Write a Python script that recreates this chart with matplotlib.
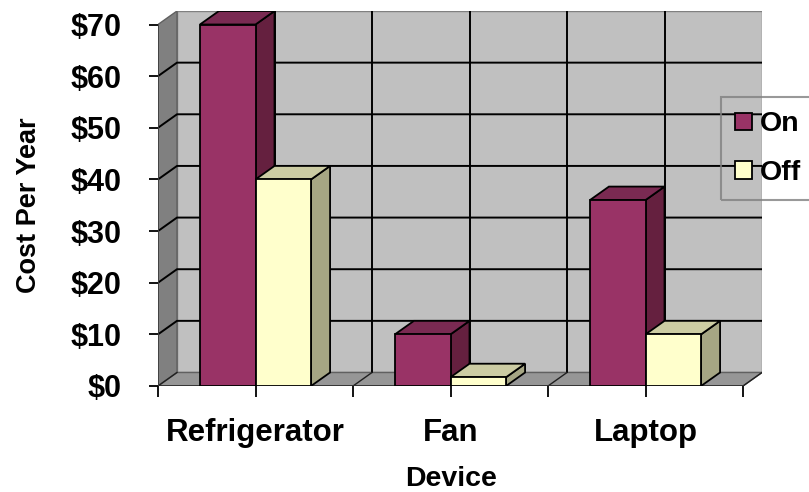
import matplotlib.pyplot as plt
from matplotlib.patches import Polygon, Rectangle, Patch

# Yearly running cost per device, switched on vs. left off
devices = ['Refrigerator', 'Fan', 'Laptop']
cost_on = [70, 10, 36]
cost_off = [40, 1.7, 10]
series = ['On', 'Off']
yticks = list(range(0, 80, 10))
ytick_labels = [f'${v}' for v in yticks]

plt.rcParams['font.family'] = ['Liberation Sans', 'DejaVu Sans']
plt.rcParams['font.weight'] = 'bold'

W, H = 809, 492
fig = plt.figure(figsize=(W / 100, H / 100), dpi=100)
ax = fig.add_axes([158 / W, (H - 386) / H, (762 - 158) / W, (386 - 11) / H])

# fake 3D depth, in data units
DX = 19 / 195
DY = 13.5 / 5.164
BW = 0.285
ax.set_xlim(-0.5, 2.5 + DX)
ax.set_ylim(0, 70 + DY)

# colours: front, side, top
on_cols = ('#993366', '#65203f', '#7a2a52')
off_cols = ('#ffffcc', '#a6a684', '#cccca3')

# walls and floor
ax.add_patch(Rectangle((-0.5 + DX, DY), 3, 70, fc='#c0c0c0', ec='#808080', lw=1, zorder=0))
ax.add_patch(Polygon([(-0.5, 0), (-0.5, 70), (-0.5 + DX, 70 + DY), (-0.5 + DX, DY)],
                     fc='#808080', ec='#606060', lw=1, zorder=0))
ax.add_patch(Polygon([(-0.5, 0), (2.5, 0), (2.5 + DX, DY), (-0.5 + DX, DY)],
                     fc='#969696', ec='#606060', lw=1, zorder=0))

# gridlines on side and back wall
for v in yticks[1:-1]:
    ax.plot([-0.5, -0.5 + DX, 2.5 + DX], [v, v + DY, v + DY], color='k', lw=1.4, zorder=0.5)
for x in [0, 0.5, 1, 1.5, 2]:
    ax.plot([x + DX, x + DX], [DY, 70 + DY], color='k', lw=1.4, zorder=0.5)
for x in [-0.5, 0, 0.5, 1, 1.5, 2, 2.5]:
    ax.plot([x, x + DX], [0, DY], color='#202020', lw=1, zorder=0.5)
ax.plot([-0.5, 2.5], [0, 0], color='#303030', lw=1.3, zorder=0.6)
ax.plot([-0.5, -0.5], [0, 70], color='#404040', lw=1.3, zorder=0.6)


def bar3d(x0, h, cols, z):
    front, side, top = cols
    kw = dict(ec='k', lw=1.3, zorder=z, joinstyle='miter')
    ax.add_patch(Polygon([(x0 + BW, 0), (x0 + BW + DX, DY), (x0 + BW + DX, h + DY), (x0 + BW, h)],
                         fc=side, **kw))
    ax.add_patch(Polygon([(x0, h), (x0 + DX, h + DY), (x0 + BW + DX, h + DY), (x0 + BW, h)],
                         fc=top, **kw))
    ax.add_patch(Rectangle((x0, 0), BW, h, fc=front, **kw))


z = 2
for i in range(len(devices)):
    bar3d(i - BW, cost_on[i], on_cols, z)
    bar3d(i, cost_off[i], off_cols, z + 1)
    z += 2

for s in ax.spines.values():
    s.set_visible(False)
ax.set_yticks(yticks, ytick_labels)
ax.set_xticks(range(len(devices)), devices)
ax.set_xticks([-0.5, 0.5, 1.5, 2.5], minor=True)
ax.tick_params(axis='y', length=6.5, width=1.3, pad=20, labelsize=22)
ax.tick_params(axis='x', which='both', length=8, width=1.3, pad=15, labelsize=22.5)

ax.set_ylabel('Cost Per Year', fontsize=19.5, fontweight='bold')
ax.yaxis.set_label_coords(-0.192, 0.483)
ax.set_xlabel('Device', fontsize=20.5, fontweight='bold')
ax.xaxis.set_label_coords(0.485, -0.212)

handles = [Patch(fc=on_cols[0], ec='k', lw=1.3), Patch(fc=off_cols[0], ec='k', lw=1.3)]
leg = fig.legend(handles, series, loc='upper left', bbox_to_anchor=(721 / W, 1 - 97 / H),
                 prop={'size': 20.5, 'weight': 'bold'}, fancybox=False, edgecolor='#808080',
                 facecolor='none', borderpad=0.5, handlelength=0.6,
                 handleheight=0.55, handletextpad=0.25, labelspacing=0.8, borderaxespad=0)
leg.get_frame().set_linewidth(1.5)

fig.savefig('out.png', dpi=100)
